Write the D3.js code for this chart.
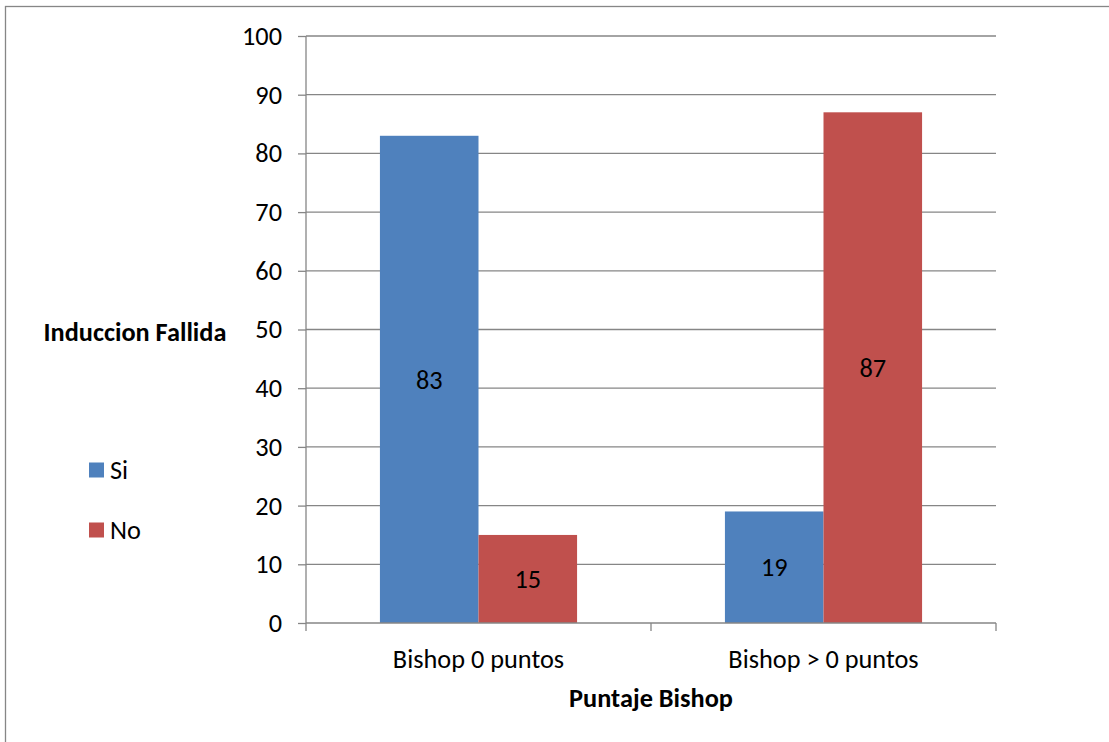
<!DOCTYPE html>
<html>
<head>
<meta charset="utf-8">
<script src="https://cdn.jsdelivr.net/npm/d3@7"></script>
<style>
  html, body { margin: 0; padding: 0; background: #fff; }
  svg { display: block; font-family: Carlito, Calibri, Lato, "Open Sans", sans-serif; }
</style>
</head>
<body>
<svg id="chart" width="1109" height="742"></svg>
<script>
// Failed induction (%) by Bishop score
const categories = ["Bishop 0 puntos", "Bishop > 0 puntos"];
const seriesNames = ["Si", "No"];
const siValues = [83, 19];
const noValues = [15, 87];
const yTicks = [0, 10, 20, 30, 40, 50, 60, 70, 80, 90, 100];
const colors = ["#4F81BD", "#C0504D"];

const fontSize = 26.3;

const svg = d3.select("#chart");
const plot = { left: 306, right: 996, top: 36, bottom: 623 };

// outer chart frame
svg.append("rect")
  .attr("x", 5.5).attr("y", 6.5)
  .attr("width", 1120).attr("height", 760)
  .attr("fill", "#fff").attr("stroke", "#868686").attr("stroke-width", 1.3);

const x0 = d3.scaleBand().domain(categories).range([plot.left, plot.right]).paddingInner(0).paddingOuter(0);
const y = d3.scaleLinear().domain([0, 100]).range([plot.bottom, plot.top]);

// horizontal gridlines
svg.append("g").selectAll("line").data(yTicks.filter(d => d > 0)).join("line")
  .attr("x1", plot.left).attr("x2", plot.right)
  .attr("y1", d => y(d)).attr("y2", d => y(d))
  .attr("stroke", "#868686").attr("stroke-width", 1.3);

// bars: two per category, gap = 150% of bar width
const barW = x0.bandwidth() / (2 + 1.5);
const data = categories.map((c, i) => ({ cat: c, vals: [siValues[i], noValues[i]] }));
const groups = svg.append("g").selectAll("g").data(data).join("g");
groups.selectAll("rect").data(d => d.vals.map((v, j) => ({ cat: d.cat, v, j }))).join("rect")
  .attr("x", d => x0(d.cat) + barW * 0.75 + d.j * barW)
  .attr("y", d => y(d.v))
  .attr("width", barW)
  .attr("height", d => y(0) - y(d.v))
  .attr("fill", d => colors[d.j]);

// value labels centred in the bars
groups.selectAll("text").data(d => d.vals.map((v, j) => ({ cat: d.cat, v, j }))).join("text")
  .attr("x", d => x0(d.cat) + barW * 0.75 + d.j * barW + barW / 2)
  .attr("y", d => y(d.v / 2))
  .attr("dy", "0.35em")
  .attr("text-anchor", "middle")
  .attr("font-size", fontSize)
  .attr("fill", "#000")
  .text(d => d.v);

// y axis
const yAxis = d3.axisLeft(y).tickValues(yTicks).tickSize(8).tickPadding(16);
const gy = svg.append("g").attr("transform", `translate(${plot.left},0)`).call(yAxis)
  .attr("font-family", null).attr("font-size", null);
gy.select(".domain").attr("stroke", "#868686").attr("stroke-width", 1.3).attr("d", `M0,${plot.top}V${plot.bottom}`);
gy.selectAll(".tick line").attr("stroke", "#868686").attr("stroke-width", 1.3);
gy.selectAll(".tick text").attr("font-size", fontSize).attr("fill", "#000");

// x axis
const gx = svg.append("g").attr("transform", `translate(0,${plot.bottom})`);
gx.append("line").attr("x1", plot.left).attr("x2", plot.right).attr("y1", 0).attr("y2", 0)
  .attr("stroke", "#868686").attr("stroke-width", 1.3);
const xBounds = [plot.left, ...categories.map(c => x0(c) + x0.bandwidth())];
gx.selectAll("line.tk").data(xBounds).join("line").attr("class", "tk")
  .attr("x1", d => d).attr("x2", d => d).attr("y1", 0).attr("y2", 8)
  .attr("stroke", "#868686").attr("stroke-width", 1.3);
gx.selectAll("text").data(categories).join("text")
  .attr("x", d => x0(d) + x0.bandwidth() / 2)
  .attr("y", 36)
  .attr("dy", "0.35em")
  .attr("text-anchor", "middle")
  .attr("font-size", fontSize)
  .attr("fill", "#000")
  .text(d => d);

// axis titles
svg.append("text").attr("x", 651).attr("y", 698).attr("dy", "0.35em")
  .attr("text-anchor", "middle").attr("font-size", fontSize).attr("font-weight", "bold")
  .text("Puntaje Bishop");
svg.append("text").attr("x", 135).attr("y", 332).attr("dy", "0.35em")
  .attr("text-anchor", "middle").attr("font-size", fontSize).attr("font-weight", "bold")
  .text("Induccion Fallida");

// legend
const legend = svg.append("g").selectAll("g").data(seriesNames).join("g")
  .attr("transform", (d, i) => `translate(89,${470 + i * 60})`);
legend.append("rect").attr("x", 0).attr("y", -7.5).attr("width", 15).attr("height", 15)
  .attr("fill", (d, i) => colors[i]);
legend.append("text").attr("x", 21).attr("y", 0).attr("dy", "0.35em")
  .attr("font-size", fontSize).attr("fill", "#000").text(d => d);
</script>
</body>
</html>
